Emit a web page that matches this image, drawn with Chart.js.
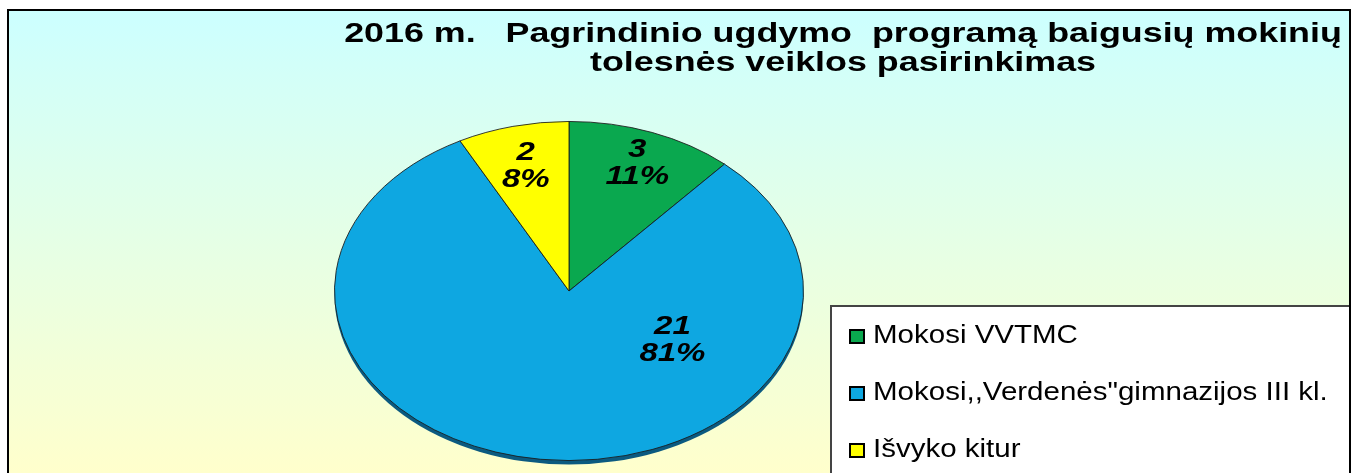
<!DOCTYPE html>
<html>
<head>
<meta charset="utf-8">
<script src="https://cdn.jsdelivr.net/npm/chart.js@4.4.1/dist/chart.umd.min.js"></script>
<style>
  html, body { margin: 0; padding: 0; background: #fff; overflow: hidden; width: 1356px; height: 473px; }
  #frame { position: absolute; left: 7px; top: 9px; border: 2px solid #000; width: 1340px; height: 560px; }
  #frame canvas { display: block; }
</style>
</head>
<body>
<div id="frame"><canvas id="pieChart" width="1340" height="560"></canvas></div>
<script>
// chart data
const categories = ["Mokosi VVTMC", "Mokosi,,Verdenės\"gimnazijos III kl.", "Išvyko kitur"];
const counts = [3, 21, 2];
const percentLabels = ["11%", "81%", "8%"];
const sliceColors = ["#0aa84f", "#0ea7e1", "#ffff00"];
const titleLines = ["2016 m.   Pagrindinio ugdymo  programą baigusių mokinių", "tolesnės veiklos pasirinkimas"];

// pie is drawn squashed vertically to look like the tilted original
const SQUASH = 0.723;

function stretchedText(ctx, text, x, y, sx) {
    ctx.save();
    ctx.translate(x, y);
    ctx.scale(sx, 1);
    ctx.fillText(text, 0, 0);
    ctx.restore();
}

const backgroundPlugin = {
    id: "background",
    beforeDraw(chart) {
        const ctx = chart.ctx;
        const g = ctx.createLinearGradient(0, 0, 0, 462);
        g.addColorStop(0, "#ccffff");
        g.addColorStop(1, "#ffffcc");
        ctx.save();
        ctx.fillStyle = g;
        ctx.fillRect(0, 0, chart.width, chart.height);
        ctx.restore();
    }
};

const squashPlugin = {
    id: "squash",
    beforeDatasetsDraw(chart) {
        const ctx = chart.ctx;
        const arc = chart.getDatasetMeta(0).data[0];
        ctx.save();
        ctx.translate(arc.x, arc.y);
        ctx.scale(1, SQUASH);
        ctx.translate(-arc.x, -arc.y);
        // dark rim under the pie
        ctx.beginPath();
        ctx.arc(arc.x, arc.y + 4 / SQUASH, arc.outerRadius, 0, Math.PI * 2);
        ctx.fillStyle = "#0b5a80";
        ctx.fill();
    },
    afterDatasetsDraw(chart) {
        chart.ctx.restore();
    }
};

const labelPlugin = {
    id: "sliceLabels",
    afterDatasetsDraw(chart, args, opts) {
        const ctx = chart.ctx;
        const arcs = chart.getDatasetMeta(0).data;
        ctx.save();
        ctx.fillStyle = "#000";
        ctx.textAlign = "center";
        ctx.font = "italic bold 25px 'Liberation Sans', Arial, sans-serif";
        arcs.forEach((arc, i) => {
            const a = opts.anchors[i];
            const ang = a.angle !== undefined ? (a.angle - 90) * Math.PI / 180 : (arc.startAngle + arc.endAngle) / 2;
            const r = arc.outerRadius * a.f;
            const x = arc.x + Math.cos(ang) * r;
            const y = arc.y + Math.sin(ang) * r * SQUASH;
            stretchedText(ctx, String(counts[i]), x, y - 4, 1.32);
            stretchedText(ctx, percentLabels[i], x, y + 23, 1.32);
        });
        ctx.restore();
    }
};

const titleLegendPlugin = {
    id: "titleLegend",
    afterDraw(chart) {
        const ctx = chart.ctx;
        ctx.save();
        // title
        ctx.fillStyle = "#000";
        ctx.textAlign = "center";
        ctx.font = "bold 28px 'Liberation Sans', Arial, sans-serif";
        titleLines.forEach((line, i) => stretchedText(ctx, line, 834, 31 + i * 29, 1.28));

        // legend box
        ctx.fillStyle = "#fff";
        ctx.fillRect(822, 295, 530, 300);
        ctx.strokeStyle = "#444";
        ctx.lineWidth = 2;
        ctx.strokeRect(822, 295, 530, 300);

        ctx.textAlign = "left";
        ctx.font = "25px 'Liberation Sans', Arial, sans-serif";
        categories.forEach((cat, i) => {
            const y = 332 + i * 57;
            ctx.fillStyle = sliceColors[i];
            ctx.fillRect(841, y - 13, 14, 13);
            ctx.strokeStyle = "#000";
            ctx.lineWidth = 2;
            ctx.strokeRect(841, y - 13, 14, 13);
            ctx.fillStyle = "#000";
            stretchedText(ctx, cat, 864, y, 1.18);
        });
        ctx.restore();
    }
};

new Chart(document.getElementById("pieChart").getContext("2d"), {
    type: "pie",
    data: {
        labels: categories,
        datasets: [{
            data: counts,
            backgroundColor: sliceColors,
            borderColor: "#1a1a1a",
            borderWidth: 1
        }]
    },
    options: {
        responsive: false,
        animation: false,
        layout: { padding: { left: 325, right: 545, top: 45, bottom: 45 } },
        plugins: {
            legend: { display: false },
            title: { display: false },
            tooltip: { enabled: false },
            sliceLabels: {
                anchors: [{ f: 0.82 }, { angle: 122, f: 0.52 }, { f: 0.77 }]
            }
        }
    },
    plugins: [backgroundPlugin, squashPlugin, labelPlugin, titleLegendPlugin]
});
</script>
</body>
</html>
